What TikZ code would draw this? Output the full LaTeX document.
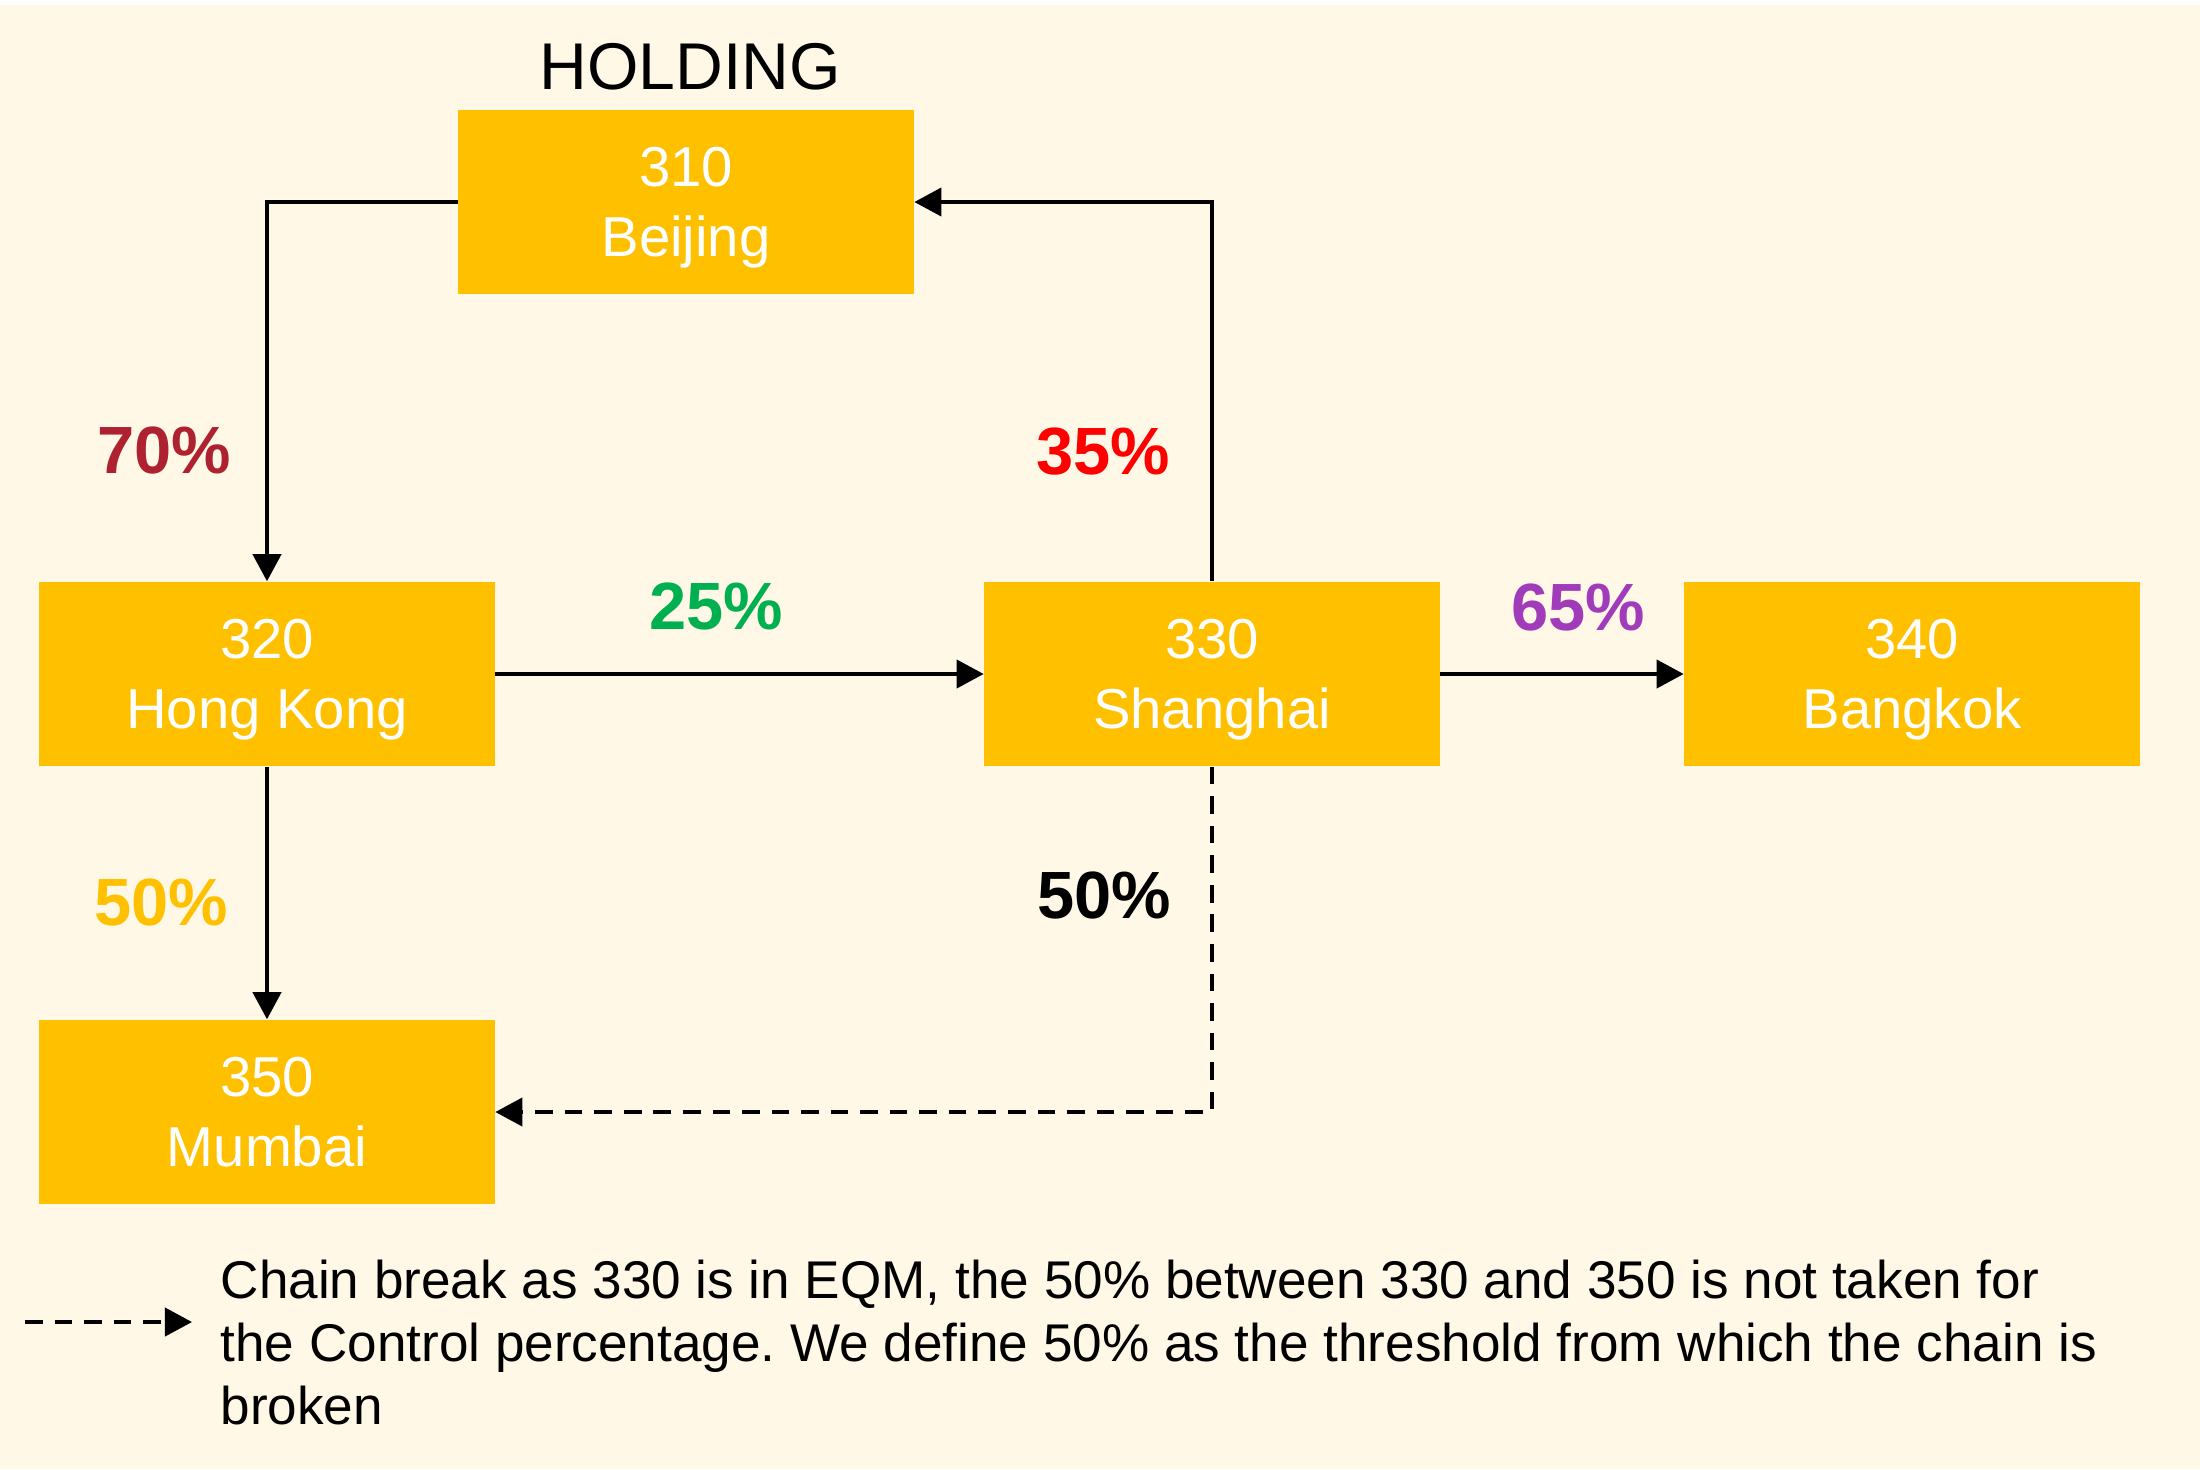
\documentclass[tikz,border=0pt]{standalone}
\usepackage{fontspec}
\setmainfont{Liberation Sans}
\usetikzlibrary{arrows.meta}
\definecolor{cream}{RGB}{255,248,230}
\definecolor{gold}{RGB}{255,192,0}
\definecolor{pctred}{RGB}{174,33,48}
\definecolor{pctgreen}{RGB}{0,176,80}
\definecolor{pctviolet}{RGB}{160,60,185}
\frenchspacing
\begin{document}
\begin{tikzpicture}[x=0.01cm,y=-0.01cm,
  entity/.style={fill=gold, text=white, minimum width=4.55cm, minimum height=1.84cm,
    align=center, inner sep=0pt, text depth=0pt, font=\fontsize{16}{19.9}\selectfont},
  link/.style={draw=black, line width=1.1pt, -{Triangle[length=7.7pt,width=8pt]}},
  pct/.style={anchor=base, font=\fontsize{19}{22}\selectfont\bfseries}]

  % Background
  \fill[white] (0,0) rectangle (2200,1469);
  \fill[cream] (0,5) rectangle (2200,1469);
  \useasboundingbox (0,0) rectangle (2200,1469);

  % Entities
  \node[entity] (b310) at (686,202) {310\\Beijing};
  \node[entity] (b320) at (267,674) {320\\Hong Kong};
  \node[entity] (b330) at (1212,674) {330\\Shanghai};
  \node[entity] (b340) at (1912,674) {340\\Bangkok};
  \node[entity] (b350) at (267,1112) {350\\Mumbai};
  \node[anchor=base, font=\fontsize{18.8}{22}\selectfont] (holding) at (690,89) {HOLDING};

  % Ownership links
  \draw[link] (b310.west) -| (b320.north);
  \draw[link] (b330.north) |- (b310.east);
  \draw[link] (b320.east) -- (b330.west);
  \draw[link] (b330.east) -- (b340.west);
  \draw[link] (b320.south) -- (b350.north);
  \draw[link, dash pattern=on 5pt off 3.4pt] (b330.south) |- (b350.east);

  % Percentages
  \node[pct, text=pctred] (p70) at (164,473) {70\%};
  \node[pct, text=red] (p35) at (1103,474) {35\%};
  \node[pct, text=pctgreen] (p25) at (716,629) {25\%};
  \node[pct, text=pctviolet] (p65) at (1578,630) {65\%};
  \node[pct, text=gold] (p50a) at (161,925) {50\%};
  \node[pct, text=black] (p50b) at (1104,918) {50\%};

  % Legend
  \coordinate (legA) at (25,1322);
  \coordinate (legB) at (192,1322);
  \draw[link, dash pattern=on 5pt off 3.4pt] (legA) -- (legB);
  \node[anchor=north west, inner sep=0pt, align=left, font=\fontsize{15.1}{17.9}\selectfont] (note) at (220,1259)
    {Chain break as 330 is in EQM, the 50\% between 330 and 350 is not taken for\\
     the Control percentage. We define 50\% as the threshold from which the chain is\\
     broken};

\end{tikzpicture}
\end{document}
